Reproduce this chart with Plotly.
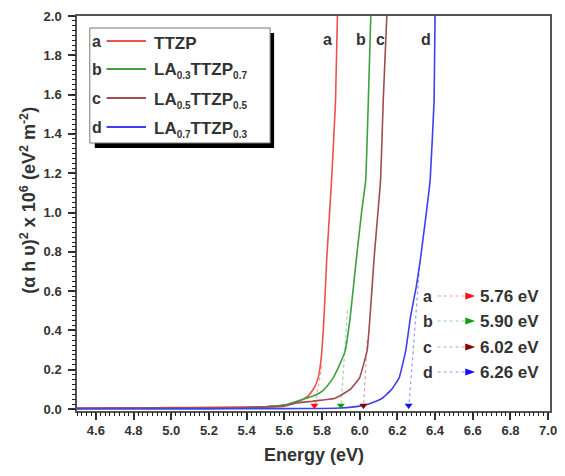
import plotly.graph_objects as go

# ---------------- data ----------------
energy_a = [4.50, 4.80, 5.00, 5.20, 5.40, 5.50, 5.55, 5.60, 5.65, 5.70, 5.73, 5.76, 5.78,
            5.795, 5.81, 5.825, 5.851, 5.872, 5.882]
vals_a = [0.005, 0.006, 0.007, 0.008, 0.010, 0.012, 0.015, 0.020, 0.030, 0.050, 0.070, 0.110,
          0.160, 0.250, 0.450, 0.760, 1.165, 1.570, 2.000]

energy_b = [4.50, 4.80, 5.00, 5.20, 5.40, 5.50, 5.60, 5.65, 5.70, 5.75, 5.80, 5.83, 5.86,
            5.90, 5.924, 5.95, 5.982, 6.01, 6.032, 6.046, 6.059]
vals_b = [0.003, 0.004, 0.005, 0.006, 0.008, 0.012, 0.020, 0.035, 0.050, 0.065, 0.090, 0.120,
          0.160, 0.240, 0.300, 0.470, 0.760, 1.000, 1.165, 1.570, 2.000]

energy_c = [4.50, 4.80, 5.00, 5.20, 5.40, 5.50, 5.60, 5.66, 5.75, 5.87, 5.95, 6.00, 6.04,
            6.055, 6.076, 6.095, 6.111, 6.125, 6.144]
vals_c = [0.004, 0.005, 0.006, 0.007, 0.008, 0.010, 0.015, 0.030, 0.040, 0.055, 0.100, 0.160,
          0.300, 0.470, 0.760, 0.980, 1.165, 1.570, 2.000]

energy_d = [4.50, 4.80, 5.00, 5.20, 5.40, 5.60, 5.80, 5.90, 6.00, 6.06, 6.12, 6.17, 6.21,
            6.245, 6.27, 6.30, 6.322, 6.35, 6.374, 6.395, 6.40]
vals_d = [0.000, 0.000, 0.001, 0.001, 0.002, 0.002, 0.003, 0.005, 0.015, 0.030, 0.055, 0.100,
          0.160, 0.300, 0.470, 0.620, 0.760, 0.970, 1.165, 1.570, 2.000]

letters = ["a", "b", "c", "d"]
names = ["TTZP", "LA{s}0.3{e}TTZP{s}0.7{e}", "LA{s}0.5{e}TTZP{s}0.5{e}", "LA{s}0.7{e}TTZP{s}0.3{e}"]
band_gaps = [5.76, 5.90, 6.02, 6.26]
gap_labels = ["5.76 eV", "5.90 eV", "6.02 eV", "6.26 eV"]
tangent_top_e = [5.80, 5.935, 6.04, 6.32]
tangent_top_v = [0.22, 0.50, 0.35, 0.75]
curve_label_e = [5.827, 6.007, 6.11, 6.35]
curve_label_v = [1.88, 1.88, 1.88, 1.88]

x_range = [4.5, 7.01]
y_range = [-0.01, 2.0]
x_tick0, x_dtick, x_minor_dtick = 4.6, 0.2, 0.025
y_tick0, y_dtick, y_minor_dtick = 0.0, 0.2, 0.025

curve_colors = ["#ef5050", "#3fa03f", "#9e4e4e", "#4040ee"]
dot_colors = ["#f4a0a0", "#a0d0a0", "#c8a0a0", "#9a9af8"]
arrow_colors = ["#ff1010", "#10a010", "#800000", "#1010ff"]

FONT = "Liberation Sans, Arial, sans-serif"
TXT = "#333333"

energies = [energy_a, energy_b, energy_c, energy_d]
values = [vals_a, vals_b, vals_c, vals_d]

fig = go.Figure()

# invisible trace carrying the minor-tick axes
fig.add_trace(go.Scatter(x=energy_d, y=vals_d, xaxis="x2", yaxis="y2", mode="lines",
                         line=dict(width=0), opacity=0, showlegend=False, hoverinfo="skip"))

for i in range(4):
    fig.add_trace(go.Scatter(x=[tangent_top_e[i], band_gaps[i]], y=[tangent_top_v[i], 0.0],
                             mode="lines", line=dict(color=dot_colors[i], width=1.2, dash="dot"),
                             showlegend=False, hoverinfo="skip"))

for i in range(4):
    fig.add_trace(go.Scatter(x=energies[i], y=values[i], mode="lines",
                             line=dict(color=curve_colors[i], width=1.6, shape="spline", smoothing=0.3),
                             name=letters[i], showlegend=False))

for i in range(4):
    fig.add_trace(go.Scatter(x=[band_gaps[i]], y=[0.018], mode="markers",
                             marker=dict(symbol="triangle-down", size=7, color=arrow_colors[i]),
                             showlegend=False, hoverinfo="skip"))

for i in range(4):
    fig.add_annotation(x=curve_label_e[i], y=curve_label_v[i], text=letters[i], showarrow=False,
                       font=dict(family=FONT, size=16, color=TXT, weight="bold"))


def xp(px):
    return (px - 77) / 480


def yp(py):
    return (411 - py) / 395


SUB_S = "<sub><span style='font-size:10px'>"
SUB_E = "</span></sub>"

shapes = []
shapes.append(dict(type="rect", xref="paper", yref="paper", x0=xp(95), x1=xp(277), y0=yp(148), y1=yp(33),
                   fillcolor="black", line=dict(width=0), layer="above"))
shapes.append(dict(type="rect", xref="paper", yref="paper", x0=xp(90), x1=xp(273), y0=yp(143), y1=yp(28),
                   fillcolor="white", line=dict(color="#777777", width=1), layer="above"))
rows = [41, 69, 98, 127]
for i in range(4):
    shapes.append(dict(type="line", xref="paper", yref="paper", x0=xp(107), x1=xp(147), y0=yp(rows[i]),
                       y1=yp(rows[i]), line=dict(color=curve_colors[i], width=2), layer="above"))
    fig.add_annotation(xref="paper", yref="paper", x=xp(97), y=yp(rows[i]), text=letters[i], showarrow=False,
                       xanchor="center", yanchor="middle",
                       font=dict(family=FONT, size=16, color=TXT, weight="bold"))
    fig.add_annotation(xref="paper", yref="paper", x=xp(153), y=yp(rows[i] + 2),
                       text=names[i].format(s=SUB_S, e=SUB_E), showarrow=False,
                       xanchor="left", yanchor="middle",
                       font=dict(family=FONT, size=17, color=TXT, weight="bold"))

rows2 = [296, 321, 347, 372]
for i in range(4):
    shapes.append(dict(type="line", xref="paper", yref="paper", x0=xp(443), x1=xp(472), y0=yp(rows2[i]),
                       y1=yp(rows2[i]), line=dict(color=dot_colors[i], width=1.2, dash="dot"), layer="above"))
    tri = "M {a},{b} L {c},{d} L {e},{f} Z".format(
        a=xp(471), b=yp(rows2[i] - 3.5), c=xp(481), d=yp(rows2[i]), e=xp(471), f=yp(rows2[i] + 3.5))
    shapes.append(dict(type="path", xref="paper", yref="paper", path=tri, fillcolor=arrow_colors[i],
                       line=dict(width=0), layer="above"))
    fig.add_annotation(xref="paper", yref="paper", x=xp(433), y=yp(rows2[i]), text=letters[i], showarrow=False,
                       xanchor="center", yanchor="middle",
                       font=dict(family=FONT, size=16, color=TXT, weight="bold"))
    fig.add_annotation(xref="paper", yref="paper", x=xp(484), y=yp(rows2[i]), text=gap_labels[i],
                       showarrow=False, xanchor="left", yanchor="middle",
                       font=dict(family=FONT, size=17, color=TXT, weight="bold"))

# axis titles
fig.add_annotation(xref="paper", yref="paper", x=0.5, y=yp(455), text="Energy (eV)", showarrow=False,
                   xanchor="center", yanchor="middle",
                   font=dict(family=FONT, size=18, color=TXT, weight="bold"))
fig.add_annotation(xref="paper", yref="paper", x=xp(27), y=yp(200), textangle=-90,
                   text="(α h υ)<sup>2</sup> x 10<sup>6</sup> (eV<sup>2</sup> m<sup>-2</sup>)",
                   showarrow=False, xanchor="center", yanchor="middle",
                   font=dict(family=FONT, size=18, color=TXT, weight="bold"))

fig.update_layout(
    width=565, height=476,
    margin=dict(l=77, r=8, t=16, b=65),
    paper_bgcolor="white", plot_bgcolor="white",
    shapes=shapes,
    showlegend=False,
    font=dict(family=FONT, color=TXT),
    xaxis=dict(
        range=x_range, tickmode="linear", tick0=x_tick0, dtick=x_dtick, tickformat=".1f",
        showgrid=False, zeroline=False,
        showline=True, linecolor="#555555", linewidth=1.5, mirror=True,
        ticks="outside", ticklen=7, tickwidth=1.5, tickcolor="#333333",
        tickfont=dict(family=FONT, size=13, color=TXT, weight="bold"),
        ticklabelstandoff=0,
    ),
    yaxis=dict(
        range=y_range, tickmode="linear", tick0=y_tick0, dtick=y_dtick, tickformat=".1f",
        showgrid=False, zeroline=False,
        showline=True, linecolor="#555555", linewidth=1.5, mirror=True,
        ticks="outside", ticklen=7, tickwidth=1.5, tickcolor="#333333",
        tickfont=dict(family=FONT, size=13, color=TXT, weight="bold"),
        ticklabelstandoff=4,
    ),
    xaxis2=dict(
        range=x_range, overlaying="x", side="bottom", anchor="y",
        tickmode="linear", tick0=x_range[0], dtick=x_minor_dtick,
        showticklabels=False, showgrid=False, zeroline=False, showline=False,
        ticks="outside", ticklen=4, tickwidth=1, tickcolor="#222222",
    ),
    yaxis2=dict(
        range=y_range, overlaying="y", side="left", anchor="x",
        tickmode="linear", tick0=y_tick0, dtick=y_minor_dtick,
        showticklabels=False, showgrid=False, zeroline=False, showline=False,
        ticks="outside", ticklen=4, tickwidth=1, tickcolor="#222222",
    ),
)

fig.write_html("out.html", post_script="document.body.style.margin='0';",
               config={"displayModeBar": False})
